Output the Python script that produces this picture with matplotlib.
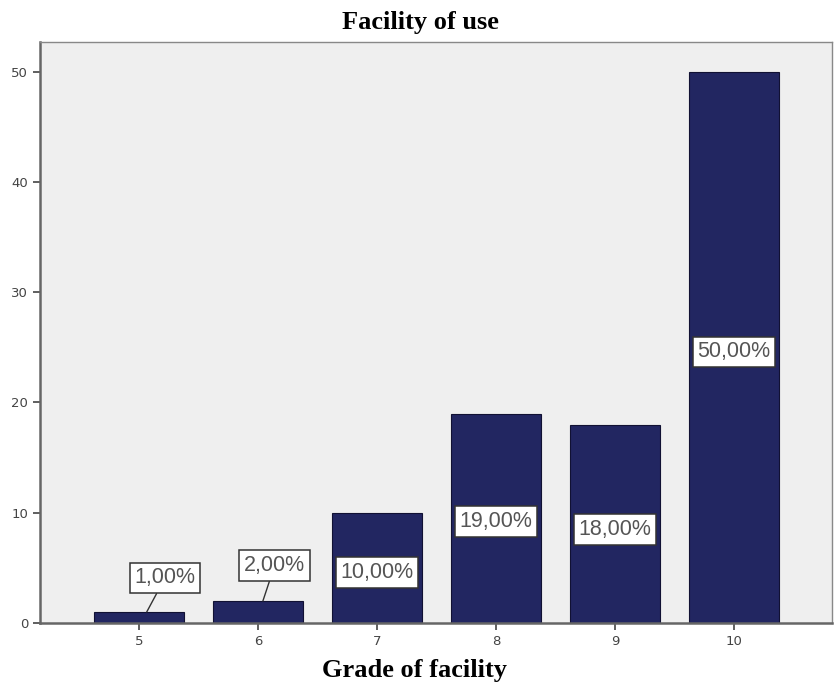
import numpy as np
import matplotlib.pyplot as plt

grades = [5, 6, 7, 8, 9, 10]
counts = [1, 2, 10, 19, 18, 50]
pct_labels = ['1,00%', '2,00%', '10,00%', '19,00%', '18,00%', '50,00%']
# label y-positions (data units); small bars get a callout above the bar
label_y = [4.1, 5.2, 4.6, 9.2, 8.5, 24.6]
label_dx = [0.22, 0.14, 0, 0, 0, 0]
callout = [True, True, False, False, False, False]

fig = plt.figure(figsize=(8.35, 6.88), dpi=100)
ax = fig.add_axes([0.048, 0.0945, 0.948, 0.8445])
ax.set_facecolor('#efefef')

ax.bar(grades, counts, width=0.75, color='#222661', edgecolor='#111133', linewidth=0.8, zorder=2)

for x, c, lab, ly, dx, co in zip(grades, counts, pct_labels, label_y, label_dx, callout):
    box = dict(boxstyle='square,pad=0.22', fc='white', ec='#333333', lw=1.1)
    kw = dict(ha='center', va='center', fontsize=15.5, color='#555555',
              family='Liberation Sans', bbox=box, zorder=3)
    if co:
        ax.annotate(lab, xy=(x + dx * 0.3, c), xytext=(x + dx, ly),
                    arrowprops=dict(arrowstyle='-', color='#333333', lw=1.0,
                                    shrinkA=0, shrinkB=0), **kw)
    else:
        ax.text(x, ly, lab, **kw)

ax.set_xlim(4.17, 10.82)
ax.set_ylim(0, 52.7)
ax.set_xticks(grades)
ax.set_yticks([0, 10, 20, 30, 40, 50])
ax.tick_params(axis='both', labelsize=9.5, colors='#444444', length=5, width=1.2)
for s in ['top', 'right']:
    ax.spines[s].set_color('#888888')
    ax.spines[s].set_linewidth(1.0)
for s in ['left', 'bottom']:
    ax.spines[s].set_color('#666666')
    ax.spines[s].set_linewidth(1.8)

fig.text(0.503, 0.968, 'Facility of use', fontsize=19, fontweight='bold',
         family='Liberation Serif', ha='center', va='center')
fig.text(0.497, 0.026, 'Grade of facility', fontsize=19, fontweight='bold',
         family='Liberation Serif', ha='center', va='center')

fig.savefig('out.png', dpi=100)
